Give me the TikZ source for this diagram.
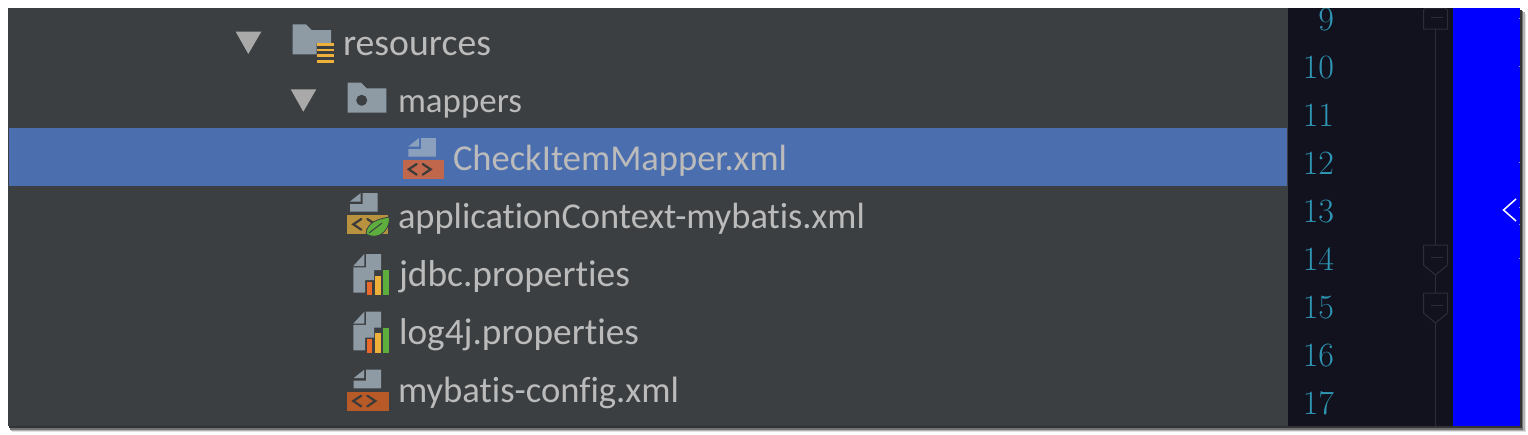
\documentclass[tikz,border=0pt]{standalone}
\usepackage{fontspec}
\setsansfont[Ligatures={NoCommon}]{Carlito}
\usepackage{graphicx}
\definecolor{panel}{HTML}{3C3F41}
\definecolor{sel}{HTML}{4B6EAF}
\definecolor{gutter}{HTML}{12121F}
\definecolor{foldc}{HTML}{2B2D38}
\definecolor{numc}{HTML}{2E96B4}
\definecolor{txt}{HTML}{BBBBBB}
\definecolor{tri}{HTML}{A9A9A9}
\definecolor{iconc}{HTML}{8E9BA5}
\definecolor{iconsel}{HTML}{8AA0BC}
\definecolor{baryellow}{HTML}{EDB13B}
\definecolor{bargreen}{HTML}{5DAE3C}
\definecolor{barorange}{HTML}{E8692A}
\definecolor{xmlred}{HTML}{C0674C}
\definecolor{xmlor}{HTML}{B85A28}
\definecolor{xmlyl}{HTML}{B8923F}
\definecolor{glyph}{HTML}{3B3B3B}
\tikzset{
  lbl/.style={anchor=base west,inner sep=0pt,outer sep=0pt,text=txt,font=\sffamily\fontsize{31}{36}\selectfont},
  num/.style={anchor=base east,inner sep=0pt,outer sep=0pt,text=numc,font=\rmfamily\fontsize{34}{40}\selectfont},
  arrowtri/.style={fill=tri},
  glyphline/.style={draw=glyph,line width=2.2pt,line cap=round,line join=miter},
  foldline/.style={draw=foldc,line width=1pt},
}
% xml icon: #1 page left, #2 top, #3 rect left, #4 rect right, #5 page colour, #6 rect colour
\newcommand{\xmlicon}[6]{%
  \fill[#5] (#1,#2+8.5) -- (#1+10.7,#2) -- (#1+10.7,#2+8.5) -- cycle;
  \fill[#5] (#1,#2+11) -- (#1+12.7,#2+11) -- (#1+12.7,#2) -- (#1+27.5,#2) -- (#1+27.5,#2+18.7) -- (#1,#2+18.7) -- cycle;
  \fill[#6] (#3,#2+22) rectangle (#4,#2+41);
  \draw[glyphline] (#3+14,#2+26) -- (#3+6,#2+31.3) -- (#3+14,#2+36.7);
  \draw[glyphline] (#3+20,#2+26) -- (#3+28,#2+31.3) -- (#3+20,#2+36.7);
}
% properties icon: #1 vertical offset
\newcommand{\propicon}[1]{%
  \fill[iconc] (353.3,#1+12) -- (364.3,#1) -- (364.3,#1+12) -- cycle;
  \fill[iconc] (353.3,#1+13.3) -- (366,#1+13.3) -- (366,#1) -- (381,#1) -- (381,#1+16) -- (374,#1+16) -- (374,#1+26) -- (365,#1+26) -- (365,#1+38.7) -- (353.3,#1+38.7) -- cycle;
  \fill[barorange] (367,#1+27.7) rectangle (372.3,#1+41);
  \fill[baryellow] (375.3,#1+21.7) rectangle (381,#1+41);
  \fill[bargreen] (383.3,#1+16) rectangle (389,#1+41);
}
% fold marker: #1 top y
\newcommand{\foldmark}[1]{%
  \draw[foldline,fill=gutter] (1423.5,#1) -- (1447.5,#1) -- (1447.5,#1+20) -- (1435.5,#1+30) -- (1423.5,#1+20) -- cycle;
  \draw[foldline] (1430.5,#1+12) -- (1442.5,#1+12);
}
\begin{document}
\begin{tikzpicture}[x=1pt,y=-1pt]
\useasboundingbox (0,0) rectangle (1528,434);
\fill[white] (0,0) rectangle (1528,434);
% window shadow
\fill[black!12] (12,14) rectangle (1526,432);
\fill[black!30] (11,12) rectangle (1525,431);
\fill[black!55] (10,11) rectangle (1523,429.5);
\fill[black!80] (9,10) rectangle (1521.5,427.5);
% panels
\fill[panel] (8,8) rectangle (1288,426);
\fill[sel] (9,128) rectangle (1287,186);
\fill[gutter] (1288,8) rectangle (1453,426);
\fill[blue] (1453,8) rectangle (1520,426);
% tree arrows
\fill[arrowtri] (235.7,31.7) -- (261.3,31.7) -- (248.3,54) -- cycle;
\fill[arrowtri] (290.7,89.3) -- (316.3,89.3) -- (303.3,111.7) -- cycle;
% resources folder
\fill[iconc] (292.7,24.3) -- (306,24.3) -- (311.7,30) -- (331,30) -- (331,43.3) -- (316.7,43.3) -- (316.7,54.3) -- (292.7,54.3) -- cycle;
\fill[baryellow] (317.3,43.3) rectangle (334,46);
\fill[baryellow] (317.3,48.7) rectangle (334,51.3);
\fill[baryellow] (317.3,54.3) rectangle (334,57);
\fill[baryellow] (317.3,60) rectangle (334,63);
% mappers folder
\fill[iconc] (347.7,82.7) -- (361,82.7) -- (366.7,88.3) -- (386.3,88.3) -- (386.3,112.7) -- (347.7,112.7) -- cycle;
\fill[panel] (361.7,100.3) circle (5.5);
% file icons
\xmlicon{408.3}{138}{402.7}{444}{iconsel}{xmlred}
\xmlicon{350}{193}{347.3}{388}{iconc}{xmlyl}
\fill[bargreen,draw=panel,line width=0.8pt] (366,234) .. controls (367,222) and (378,219) .. (389.5,217) .. controls (390,228) and (382,238) .. (371,236) -- cycle;
\draw[panel,line width=1pt] (369,233) -- (382,223);
\propicon{254}
\propicon{311.6}
\xmlicon{353.5}{369.7}{347.3}{389}{iconc}{xmlor}
% tree labels
\node[lbl] (resources) at (343,55) {\resizebox{148pt}{!}{resources}};
\node[lbl] (mappers) at (398,112.5) {\resizebox{124pt}{!}{mappers}};
\node[lbl] (checkitem) at (453,170.5) {\resizebox{334pt}{!}{CheckItemMapper.xml}};
\node[lbl] (appctx) at (398,228.5) {\resizebox{467pt}{!}{applicationContext-mybatis.xml}};
\node[lbl] (jdbc) at (399,286.5) {\resizebox{231pt}{!}{jdbc.properties}};
\node[lbl] (logj) at (399,344.5) {\resizebox{240pt}{!}{log4j.properties}};
\node[lbl] (mybatis) at (398,402.5) {\resizebox{281pt}{!}{mybatis-config.xml}};
% line numbers
\begin{scope}
\clip (1288,8) rectangle (1453,426);
\node[num] (n9) at (1334,30.5) {9};
\node[num] (n10) at (1334,78.5) {10};
\node[num] (n11) at (1334,126.5) {11};
\node[num] (n12) at (1334,174.5) {12};
\node[num] (n13) at (1334,222.5) {13};
\node[num] (n14) at (1334,270.5) {14};
\node[num] (n15) at (1334,318.5) {15};
\node[num] (n16) at (1334,366.5) {16};
\node[num] (n17) at (1334,414.5) {17};
% fold gutter
\draw[foldline] (1435.5,8) -- (1435.5,426);
\draw[foldline,fill=gutter] (1423.5,10) -- (1426,8) -- (1445,8) -- (1447.5,10) -- (1447.5,29) -- (1423.5,29) -- cycle;
\draw[foldline] (1430.5,17) -- (1442.5,17);
\foldmark{245}
\foldmark{293}
\end{scope}
% collapse chevron
\draw[white,line width=1.5pt] (1516,199) -- (1503.5,210) -- (1516,221);
% edge ticks
\foreach \ty in {18,66,162,207,224,258}{\fill[blue!45!white] (1519,\ty) rectangle (1520,\ty+1);}
\end{tikzpicture}
\end{document}
